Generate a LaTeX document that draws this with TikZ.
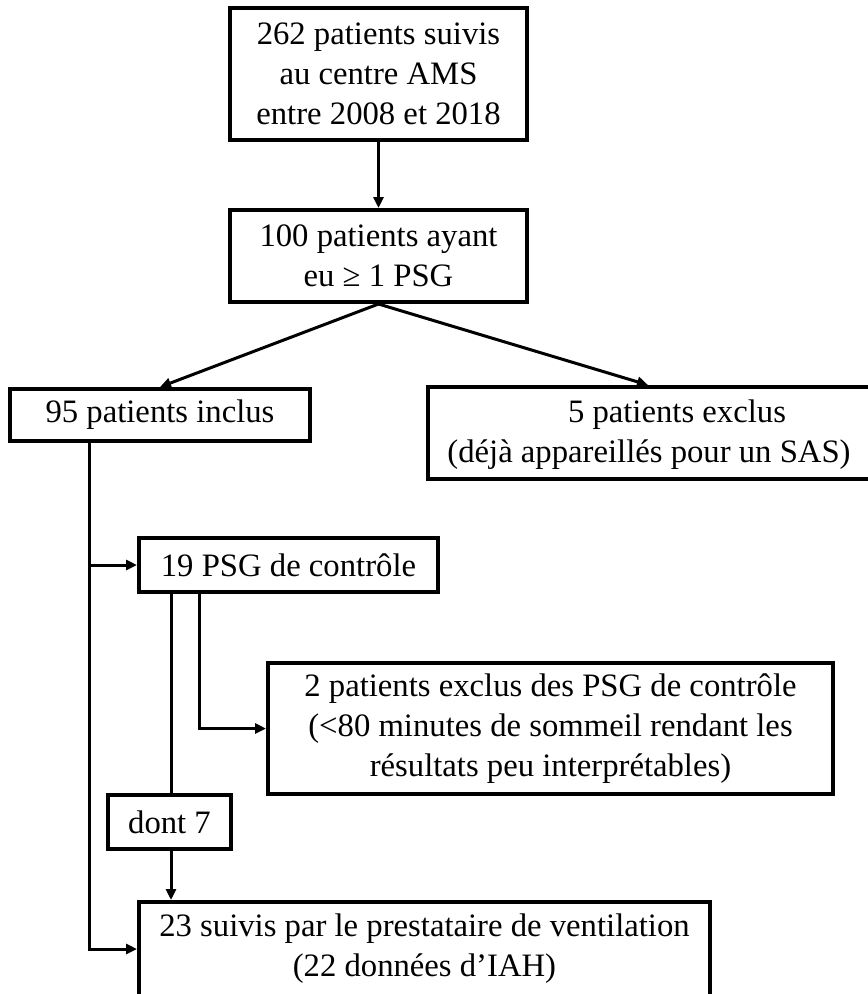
\documentclass[tikz,border=0pt]{standalone}
\usepackage{fontspec}
\setmainfont{Liberation Serif}
\usetikzlibrary{arrows.meta,calc}
\begin{document}
\begin{tikzpicture}[x=1pt,y=-1pt,
  box/.style={draw,line width=4pt,inner sep=0pt,align=center,font=\fontsize{32.7}{40}\selectfont},
  txt/.style={inner sep=0pt,align=center,font=\fontsize{32.7}{40}\selectfont},
  conn/.style={line width=3pt},
  arr/.style={conn,-{Triangle[length=11pt,width=10pt]}}]
\useasboundingbox[fill=white] (0,0) rectangle (868,994);
% boxes
\node[box,minimum width=297pt,minimum height=132pt] (n1) at (378.5,74) {262 patients suivis\\au centre AMS\\entre 2008 et 2018};
\node[box,minimum width=297pt,minimum height=92pt] (n2) at (378.5,256) {100 patients ayant\\eu ≥ 1 PSG};
\node[box,minimum width=300pt,minimum height=52pt] (n95) at (160,415) {95 patients inclus};
\node[box,minimum width=452pt,minimum height=92pt] (n5) at (654,433) {};
\node[txt] (t5) at (649,435) {\hspace*{56pt}5 patients exclus\\(déjà appareillés pour un SAS)};
\node[box,minimum width=299pt,minimum height=54pt] (n19) at (288.5,565) {19 PSG de contrôle};
\node[box,minimum width=565pt,minimum height=131pt] (nx) at (550.5,728.5) {2 patients exclus des PSG de contrôle\\(<80 minutes de sommeil rendant les\\résultats peu interprétables)};
\node[box,minimum width=123pt,minimum height=54pt] (n7) at (169.5,822) {dont 7};
\node[box,minimum width=571pt,minimum height=94pt] (n23) at (424.5,949) {23 suivis par le prestataire de ventilation\\(22 données d’IAH)};
% connectors
\draw[arr] (n1.south) -- (n2.north);
\draw[arr] (n2.south) -- (n95.north);
\draw[arr] (n2.south) -- ($(n5.north west)+(222,0)$);
\coordinate (v95) at ($(n95.south west)+(81,0)$);
\draw[arr] (v95) |- (n19.west);
\draw[arr] (v95) |- (n23.west);
\coordinate (c19a) at ($(n19.south west)+(34,0)$);
\coordinate (c19b) at ($(n19.south west)+(62,0)$);
\draw[conn] (c19a) -- (c19a |- n7.north);
\draw[arr] (c19b) |- (nx.west);
\draw[arr] (c19a |- n7.south) -- (c19a |- n23.north);
\end{tikzpicture}
\end{document}
